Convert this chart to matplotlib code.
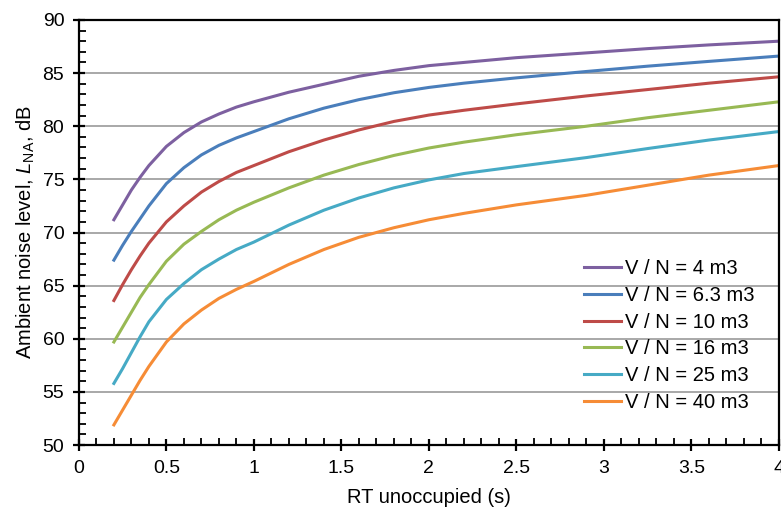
import matplotlib
matplotlib.use("Agg")
import matplotlib.pyplot as plt
from matplotlib.ticker import MultipleLocator

plt.rcParams['font.family'] = ['Liberation Sans', 'DejaVu Sans']
plt.rcParams['mathtext.fontset'] = 'custom'
plt.rcParams['mathtext.rm'] = 'Liberation Sans'
plt.rcParams['mathtext.it'] = 'Liberation Sans:italic'

# reverberation time (s) sample points
rt = [0.2, 0.25, 0.3, 0.35, 0.4, 0.5, 0.6, 0.7, 0.8, 0.9, 1.0, 1.2, 1.4,
      1.6, 1.8, 2.0, 2.2, 2.5, 2.9, 3.25, 3.6, 4.0]

lna_4 = [71.2, 72.6, 74.0, 75.2, 76.3, 78.1, 79.4, 80.4, 81.15, 81.8, 82.3, 83.2, 83.95,
         84.7, 85.25, 85.7, 86.0, 86.45, 86.9, 87.3, 87.65, 88.0]
lna_6_3 = [67.4, 68.8, 70.1, 71.3, 72.5, 74.6, 76.1, 77.3, 78.2, 78.9, 79.5, 80.7, 81.7,
           82.5, 83.15, 83.65, 84.05, 84.55, 85.15, 85.65, 86.1, 86.6]
lna_10 = [63.6, 65.1, 66.5, 67.8, 69.0, 71.0, 72.5, 73.8, 74.8, 75.65, 76.3, 77.6, 78.7,
          79.65, 80.45, 81.05, 81.5, 82.1, 82.85, 83.45, 84.05, 84.65]
lna_16 = [59.7, 61.1, 62.5, 63.9, 65.1, 67.3, 68.9, 70.1, 71.2, 72.1, 72.85, 74.2, 75.4,
          76.4, 77.25, 77.95, 78.5, 79.2, 80.0, 80.8, 81.5, 82.3]
lna_25 = [55.8, 57.2, 58.7, 60.2, 61.6, 63.7, 65.2, 66.5, 67.5, 68.4, 69.1, 70.7, 72.1,
          73.25, 74.2, 74.95, 75.55, 76.2, 77.05, 77.9, 78.7, 79.5]
lna_40 = [51.9, 53.3, 54.7, 56.1, 57.4, 59.7, 61.4, 62.7, 63.8, 64.65, 65.4, 67.0, 68.4,
          69.55, 70.45, 71.2, 71.8, 72.6, 73.5, 74.45, 75.4, 76.3]

labels = ["V / N = 4 m3", "V / N = 6.3 m3", "V / N = 10 m3",
          "V / N = 16 m3", "V / N = 25 m3", "V / N = 40 m3"]
series = [lna_4, lna_6_3, lna_10, lna_16, lna_25, lna_40]
colors = ['#7D60A0', '#4A7EBB', '#BE4B48', '#98B954', '#46AAC5', '#F68C36']

xticks = [0, 0.5, 1, 1.5, 2, 2.5, 3, 3.5, 4]
xticklabels = ["0", "0.5", "1", "1.5", "2", "2.5", "3", "3.5", "4"]

fig = plt.figure(figsize=(7.81, 5.11), dpi=100)
ax = fig.add_axes([0.101, 0.129, 0.8964, 0.832])

for ys, lab, c in zip(series, labels, colors):
    ax.plot(rt, ys, color=c, lw=2.2, label=lab, solid_joinstyle='round')

ax.set_xlim(0, 4)
ax.set_ylim(50, 90)
ax.set_xticks(xticks)
ax.set_xticklabels(xticklabels)
ax.set_yticks(range(50, 91, 5))
ax.xaxis.set_minor_locator(MultipleLocator(0.1))
ax.yaxis.set_minor_locator(MultipleLocator(1))
ax.grid(axis='y', which='major', color='#999999', lw=1.2)
ax.set_axisbelow(True)

for s in ax.spines.values():
    s.set_linewidth(1.6)
    s.set_color('black')

ax.tick_params(which='major', direction='inout', length=9, width=1.6, labelsize=14, pad=6)
ax.tick_params(which='minor', direction='in', length=5, width=1.3)
ax.tick_params(right=False, top=False, which='both')

ax.set_xlabel("RT unoccupied (s)", fontsize=14.5, labelpad=8)
ax.set_ylabel(r"Ambient noise level, $\mathit{L}_{\mathrm{NA}}$, dB", fontsize=14.5, labelpad=4)

ax.legend(loc='upper left', bbox_to_anchor=(0.722, 0.437), frameon=False,
          fontsize=14.5, handlelength=1.8, handletextpad=0.2, labelspacing=0.38,
          borderpad=0, borderaxespad=0)

plt.savefig("out.png", dpi=100)
